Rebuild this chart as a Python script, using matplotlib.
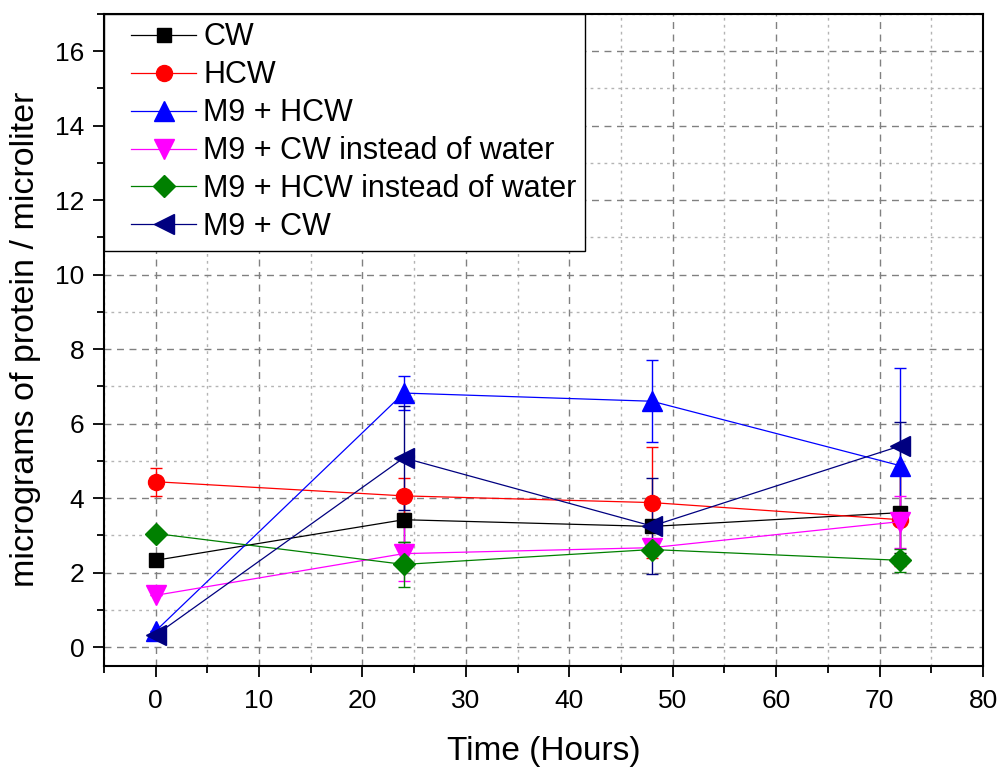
import matplotlib
matplotlib.use('Agg')
import matplotlib.pyplot as plt
from matplotlib.lines import Line2D
from matplotlib.legend_handler import HandlerLine2D
from matplotlib.ticker import MultipleLocator

plt.rcParams['font.family'] = ['Liberation Sans', 'DejaVu Sans']

# sampling times (hours)
hours = [0, 24, 48, 72]

# protein concentration (ug / uL) and error for each culture
cw = [2.33, 3.42, 3.24, 3.61]
cw_err = [0.0, 0.60, 0.10, 1.08]
hcw = [4.44, 4.06, 3.88, 3.42]
hcw_err = [0.37, 0.47, 1.50, 1.23]
m9_hcw = [0.43, 6.82, 6.60, 4.87]
m9_hcw_err = [0.0, 0.45, 1.10, 2.62]
m9_cw_iw = [1.39, 2.51, 2.67, 3.37]
m9_cw_iw_err = [0.0, 0.74, 0.20, 0.70]
m9_hcw_iw = [3.05, 2.22, 2.62, 2.33]
m9_hcw_iw_err = [0.0, 0.61, 0.15, 0.30]
m9_cw = [0.32, 5.08, 3.25, 5.40]
m9_cw_err = [0.0, 1.40, 1.30, 0.65]

series = [
    ('CW', cw, cw_err, 'black', 's', 9.8),
    ('HCW', hcw, hcw_err, 'red', 'o', 11.5),
    ('M9 + HCW', m9_hcw, m9_hcw_err, 'blue', '^', 14),
    ('M9 + CW instead of water', m9_cw_iw, m9_cw_iw_err, 'magenta', 'v', 14),
    ('M9 + HCW instead of water', m9_hcw_iw, m9_hcw_iw_err, 'green', 'D', 11.5),
    ('M9 + CW', m9_cw, m9_cw_err, 'navy', '<', 14),
]

fig = plt.figure(figsize=(9.98, 7.67), dpi=100)
ax = fig.add_axes([0.104, 0.132, 0.881, 0.850])

handles = []
for label, y, err, col, mk, ms in series:
    ax.errorbar(hours, y, yerr=err, color=col, marker=mk, markersize=ms,
                markeredgecolor=col, markerfacecolor=col, linewidth=0.9,
                elinewidth=1.0, capsize=4.5, capthick=1.0, zorder=3)
    # legend entry without the error bar
    handles.append(Line2D([], [], color=col, marker=mk, markersize=ms,
                          markeredgecolor=col, markerfacecolor=col,
                          linewidth=0.9, label=label))

ax.set_xlim(-5, 80)
ax.set_ylim(-0.5, 17)
ax.xaxis.set_major_locator(MultipleLocator(10))
ax.xaxis.set_minor_locator(MultipleLocator(5))
ax.yaxis.set_major_locator(MultipleLocator(2))
ax.yaxis.set_minor_locator(MultipleLocator(1))

ax.grid(which='major', color='#808080', linestyle=(0, (5, 4)), linewidth=1.0)
ax.grid(which='minor', color='#b4b4b4', linestyle=(0, (2, 3)), linewidth=1.0)
ax.set_axisbelow(True)

ax.tick_params(which='major', direction='out', length=8, width=1.3,
               labelsize=19)
ax.tick_params(axis='x', which='major', pad=9)
ax.tick_params(axis='y', which='major', pad=6)
ax.tick_params(which='minor', direction='out', length=5, width=1.3)
for sp in ax.spines.values():
    sp.set_linewidth(1.5)

ax.set_xlabel('Time (Hours)', fontsize=24, labelpad=16)
ax.set_ylabel('micrograms of protein / microliter', fontsize=24.5,
              labelpad=10)

leg = ax.legend(handles=handles, loc='upper left', borderaxespad=0,
                fancybox=False, edgecolor='black', framealpha=1, fontsize=22,
                handlelength=2.75, handletextpad=0.22, labelspacing=0.26,
                borderpad=0.28,
                handler_map={Line2D: HandlerLine2D(xpad=0.6)})
leg.get_frame().set_linewidth(1.0)

fig.savefig('out.png', dpi=100)
